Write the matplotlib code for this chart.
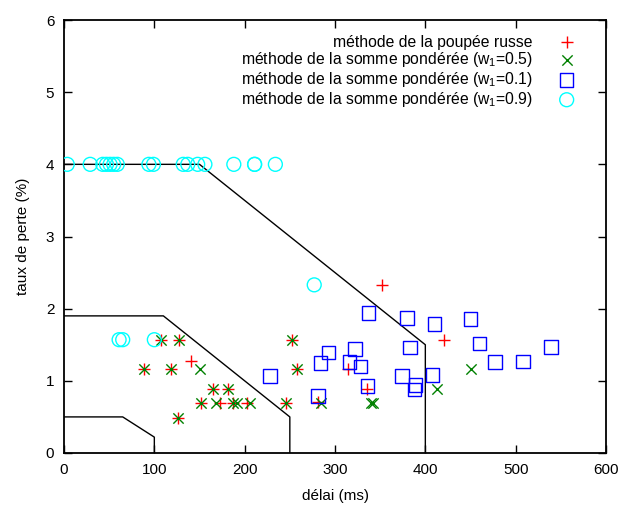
import matplotlib
matplotlib.use("Agg")
import matplotlib.pyplot as plt

plt.rcParams['font.family'] = ['Liberation Sans', 'DejaVu Sans']
plt.rcParams['mathtext.fontset'] = 'custom'
plt.rcParams['mathtext.rm'] = 'Liberation Sans'
plt.rcParams['mathtext.default'] = 'rm'

# méthode de la poupée russe (red +)
russe_x = [107, 127, 141, 89, 119, 165, 181, 152, 173, 187, 203, 246, 126, 252, 258, 281, 314, 335, 352, 421]
russe_y = [1.57, 1.57, 1.28, 1.16, 1.16, 0.89, 0.89, 0.69, 0.69, 0.69, 0.69, 0.69, 0.48, 1.57, 1.16, 0.70, 1.16, 0.89, 2.33, 1.57]

# somme pondérée w1=0.5 (green x)
w05_x = [107, 127, 89, 118, 150, 165, 181, 152, 168, 187, 191, 206, 246, 126, 252, 258, 284, 340, 342, 451, 413]
w05_y = [1.57, 1.57, 1.16, 1.16, 1.16, 0.89, 0.89, 0.69, 0.69, 0.69, 0.69, 0.69, 0.69, 0.48, 1.57, 1.16, 0.69, 0.69, 0.69, 1.16, 0.89]

# somme pondérée w1=0.1 (blue squares)
w01_x = [337, 380, 410, 450, 383, 460, 539, 293, 322, 284, 316, 328, 477, 508, 228, 374, 408, 336, 389, 388, 281]
w01_y = [1.94, 1.87, 1.79, 1.86, 1.46, 1.52, 1.47, 1.39, 1.44, 1.25, 1.26, 1.20, 1.26, 1.27, 1.07, 1.07, 1.08, 0.93, 0.94, 0.88, 0.79]

# somme pondérée w1=0.9 (cyan circles)
w09_x = [3.6, 29, 43, 47, 51, 55, 59, 94, 99, 132, 137, 148, 156, 188, 211, 211, 234, 61, 65, 100, 277]
w09_y = [4.0, 4.0, 4.0, 4.0, 4.0, 4.0, 4.0, 4.0, 4.0, 4.0, 4.0, 4.0, 4.0, 4.0, 4.0, 4.0, 4.0, 1.57, 1.57, 1.57, 2.33]

# boundary lines
outer_x = [0, 150, 400, 400]
outer_y = [4.0, 4.0, 1.5, 0]
middle_x = [0, 110, 250, 250]
middle_y = [1.9, 1.9, 0.5, 0]
inner_x = [0, 65, 100, 100]
inner_y = [0.5, 0.5, 0.22, 0]

FS = 11.3
TFS = 11

fig = plt.figure(figsize=(6.19, 5.08), dpi=100)
ax = fig.add_axes([64/619, 1-453/508, (606-64)/619, (453-20)/508])

for xs, ys in [(outer_x, outer_y), (middle_x, middle_y), (inner_x, inner_y)]:
    ax.plot(xs, ys, color='black', lw=1.0, zorder=1)

ax.scatter(russe_x, russe_y, marker='+', s=70, color='red', linewidths=1.0, zorder=3,
           label='méthode de la poupée russe')
ax.scatter(w05_x, w05_y, marker='x', s=55, color='#008000', linewidths=1.0, zorder=3,
           label='méthode de la somme pondérée (w$_1$=0.5)')
ax.scatter(w01_x, w01_y, marker='s', s=95, facecolors='none', edgecolors='blue', linewidths=1.0, zorder=3,
           label='méthode de la somme pondérée (w$_1$=0.1)')
ax.scatter(w09_x, w09_y, marker='o', s=100, facecolors='none', edgecolors='cyan', linewidths=1.0, zorder=3,
           label='méthode de la somme pondérée (w$_1$=0.9)')

ax.set_xlim(0, 600)
ax.set_ylim(0, 6)
ax.set_xticks([0, 100, 200, 300, 400, 500, 600])
ax.set_yticks([0, 1, 2, 3, 4, 5, 6])
ax.tick_params(direction='in', top=True, right=True, length=6, width=1, labelsize=TFS, pad=7)
for sp in ax.spines.values():
    sp.set_linewidth(1.3)

ax.set_xlabel('délai (ms)', fontsize=TFS, labelpad=9)
ax.set_ylabel('taux de perte (%)', fontsize=TFS, labelpad=11)

leg = ax.legend(loc='upper right', bbox_to_anchor=(0.968, 0.981), frameon=False, markerfirst=False,
                fontsize=FS, handletextpad=1.17, handlelength=2.0, labelspacing=0.05,
                borderaxespad=0.0, borderpad=0.4, scatterpoints=1)
for t in leg.get_texts():
    t.set_ha('right')
leg._legend_box.align = 'right'

fig.savefig('out.png', dpi=100)
